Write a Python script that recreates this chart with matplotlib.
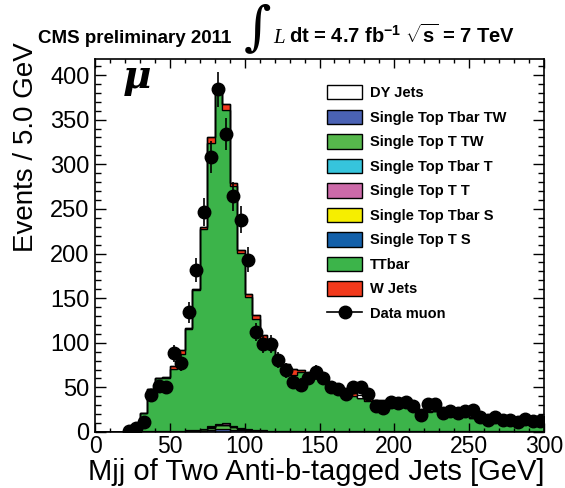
import numpy as np
import matplotlib
matplotlib.use("Agg")
import matplotlib.pyplot as plt
from matplotlib.patches import Patch
from matplotlib.lines import Line2D
from matplotlib.ticker import MultipleLocator

plt.rcParams['font.family'] = 'Liberation Sans'
plt.rcParams['mathtext.fontset'] = 'custom'
plt.rcParams['mathtext.rm'] = 'Liberation Sans:bold'
plt.rcParams['mathtext.bf'] = 'Liberation Sans:bold'
plt.rcParams['mathtext.it'] = 'Liberation Serif:italic'

# 5 GeV bins from 0 to 300 GeV
bin_edges = np.arange(0, 305, 5)

data_muon = [
    0, 0, 0, 0, 1, 5, 11, 41, 51, 50,
    88, 77, 134, 182, 246, 308, 384, 334, 264, 238,
    193, 112, 99, 99, 81, 69, 56, 53, 60, 67,
    60, 50, 48, 43, 50, 50, 43, 29, 27, 34,
    33, 34, 29, 19, 31, 31, 21, 23, 21, 23,
    25, 17, 14, 17, 14, 13, 11, 15, 12, 12,
]

st_tbar_tw = [
    0, 0, 0, 0, 0, 0, 0.2, 0.2, 0.2, 0.2,
    0.2, 0.2, 0.5, 1.0, 1.5, 2.5, 3.5, 3.5, 2.5, 1.8,
    1.2, 0.8, 0.6, 0.3, 0.3, 0.3, 0.3, 0.3, 0.3, 0.3,
    0.3, 0.3, 0.3, 0.3, 0.3, 0.3, 0.3, 0.3, 0.3, 0.3,
    0.3, 0.3, 0.3, 0.3, 0.3, 0.3, 0.3, 0.3, 0.3, 0.3,
    0.3, 0.3, 0.3, 0.3, 0.3, 0.3, 0.3, 0.3, 0.3, 0.3,
]
st_t_tw = [
    0, 0, 0, 0, 0, 0, 0.2, 0.2, 0.2, 0.2,
    0.2, 0.2, 0.5, 1.0, 1.5, 2.5, 4.0, 4.5, 3.0, 2.0,
    1.2, 0.8, 0.6, 0.3, 0.3, 0.3, 0.3, 0.3, 0.3, 0.3,
    0.3, 0.3, 0.3, 0.3, 0.3, 0.3, 0.3, 0.3, 0.3, 0.3,
    0.3, 0.3, 0.3, 0.3, 0.3, 0.3, 0.3, 0.3, 0.3, 0.3,
    0.3, 0.3, 0.3, 0.3, 0.3, 0.3, 0.3, 0.3, 0.3, 0.3,
]
st_tbar_t = [
    0, 0, 0, 0, 0, 0, 0.2, 0.2, 0.2, 0.2,
    0.2, 0.2, 0.2, 0.2, 0.2, 0.4, 0.4, 0.4, 0.4, 0.2,
    0.2, 0.2, 0.2, 0.2, 0.2, 0.2, 0.2, 0.2, 0.2, 0.2,
    0.2, 0.2, 0.2, 0.2, 0.2, 0.2, 0.2, 0.2, 0.2, 0.2,
    0.2, 0.2, 0.2, 0.2, 0.2, 0.2, 0.2, 0.2, 0.2, 0.2,
    0.2, 0.2, 0.2, 0.2, 0.2, 0.2, 0.2, 0.2, 0.2, 0.2,
]
st_t_t = [
    0, 0, 0, 0, 0, 0, 0.3, 0.3, 0.3, 0.3,
    0.3, 0.3, 0.3, 0.3, 0.3, 0.6, 0.8, 1.2, 0.8, 0.3,
    0.3, 0.3, 0.3, 0.3, 0.3, 0.3, 0.3, 0.3, 0.3, 0.3,
    0.3, 0.3, 0.3, 0.3, 0.3, 0.3, 0.3, 0.3, 0.3, 0.3,
    0.3, 0.3, 0.3, 0.3, 0.3, 0.3, 0.3, 0.3, 0.3, 0.3,
    0.3, 0.3, 0.3, 0.3, 0.3, 0.3, 0.3, 0.3, 0.3, 0.3,
]
st_tbar_s = [
    0, 0, 0, 0, 0, 0, 0.1, 0.1, 0.1, 0.1,
    0.1, 0.1, 0.1, 0.1, 0.1, 0.1, 0.1, 0.1, 0.1, 0.1,
    0.1, 0.1, 0.1, 0.1, 0.1, 0.1, 0.1, 0.1, 0.1, 0.1,
    0.1, 0.1, 0.1, 0.1, 0.1, 0.1, 0.1, 0.1, 0.1, 0.1,
    0.1, 0.1, 0.1, 0.1, 0.1, 0.1, 0.1, 0.1, 0.1, 0.1,
    0.1, 0.1, 0.1, 0.1, 0.1, 0.1, 0.1, 0.1, 0.1, 0.1,
]
st_t_s = [
    0, 0, 0, 0, 0, 0, 0.2, 0.2, 0.2, 0.2,
    0.2, 0.2, 0.2, 0.2, 0.2, 0.2, 0.3, 0.3, 0.2, 0.2,
    0.2, 0.2, 0.2, 0.2, 0.2, 0.2, 0.2, 0.2, 0.2, 0.2,
    0.2, 0.2, 0.2, 0.2, 0.2, 0.2, 0.2, 0.2, 0.2, 0.2,
    0.2, 0.2, 0.2, 0.2, 0.2, 0.2, 0.2, 0.2, 0.2, 0.2,
    0.2, 0.2, 0.2, 0.2, 0.2, 0.2, 0.2, 0.2, 0.2, 0.2,
]
ttbar = [
    0, 0, 0, 0, 0.3, 1.0, 19.8, 46.8, 58.8, 59.8,
    69.8, 85.8, 113.2, 156.2, 223.2, 317.7, 374.9, 351.0, 269.0, 196.4,
    147.8, 124.6, 102.0, 97.6, 76.6, 73.6, 62.6, 65.6, 58.6, 61.6,
    56.6, 49.6, 45.6, 43.6, 39.1, 36.6, 33.6, 33.6, 33.6, 28.6,
    28.6, 27.6, 27.6, 21.6, 20.6, 21.6, 20.6, 20.6, 19.6, 19.6,
    14.6, 11.6, 10.6, 10.6, 9.6, 9.6, 8.6, 8.6, 8.6, 7.6,
]
w_jets = [
    0, 0, 0, 0, 0, 0, 0, 0, 0, 1,
    3, 5, 1, 1, 3, 7, 2, 6, 3, 3,
    4, 4, 5, 1, 0, 1, 7, 3, 0, 0,
    0, 0, 0, 0, 3, 0.5, 3, 1, 1, 0,
    0, 0, 0, 0, 2, 0, 0, 0, 0, 0,
    0, 0, 0, 0, 0, 0, 0, 0, 0, 0,
]
dy_jets = [
    0, 0, 0, 0, 0, 0, 0, 0, 0, 0,
    0, 0, 0, 0, 0, 0, 0, 0, 0, 0,
    0, 0, 0, 0, 0, 0, 0, 0, 0, 0,
    0, 0, 0, 0, 0, 3, 0, 0, 0, 0,
    0, 0, 0, 0, 0, 1, 0, 0, 0, 0,
    1, 0, 0, 0, 0, 0, 0, 0, 0, 0,
]

# stack, bottom to top
stack = [
    ("Single Top Tbar TW", st_tbar_tw, "#4a62b4"),
    ("Single Top T TW", st_t_tw, "#56b84c"),
    ("Single Top Tbar T", st_tbar_t, "#36c4dc"),
    ("Single Top T T", st_t_t, "#cc6aa9"),
    ("Single Top Tbar S", st_tbar_s, "#f6ee00"),
    ("Single Top T S", st_t_s, "#1360aa"),
    ("TTbar", ttbar, "#3cb44a"),
    ("W Jets", w_jets, "#f23a1c"),
    ("DY Jets", dy_jets, "#ffffff"),
]
legend_order = ["DY Jets", "Single Top Tbar TW", "Single Top T TW", "Single Top Tbar T",
                "Single Top T T", "Single Top Tbar S", "Single Top T S", "TTbar", "W Jets"]

fig = plt.figure(figsize=(5.65, 4.88), dpi=100)
ax = fig.add_axes([95 / 565, 56 / 488, 449 / 565, 373.5 / 488])

bottom = np.zeros(len(bin_edges) - 1)
for name, vals, col in stack:
    top = bottom + np.array(vals)
    ax.stairs(top, bin_edges, baseline=bottom, fill=True, facecolor=col,
              edgecolor="black", linewidth=0.9)
    bottom = top

# data points with poisson errors
centers = 0.5 * (bin_edges[:-1] + bin_edges[1:])
d = np.array(data_muon, dtype=float)
m = d > 0
ax.errorbar(centers[m], d[m], yerr=np.sqrt(d[m]), fmt="o", color="black",
            markersize=9, elinewidth=1.2, capsize=0, zorder=5)

ax.set_xlim(0, 300)
ax.set_ylim(0, 418.5)
ax.xaxis.set_major_locator(MultipleLocator(50))
ax.xaxis.set_minor_locator(MultipleLocator(10))
ax.yaxis.set_major_locator(MultipleLocator(50))
ax.yaxis.set_minor_locator(MultipleLocator(10))
ax.tick_params(which="both", direction="in", top=True, right=True, width=1)
ax.tick_params(axis="y", which="major", length=8, pad=4, labelsize=17)
ax.tick_params(axis="y", which="minor", length=4)
ax.tick_params(axis="x", which="major", length=6.5, pad=2, labelsize=16.5)
ax.tick_params(axis="x", which="minor", length=3.2)
for s in ax.spines.values():
    s.set_linewidth(1.2)

fig.text(545 / 565, 1 - 480 / 488, "Mjj of Two Anti-b-tagged Jets [GeV]",
         fontsize=21, ha="right", va="baseline")
fig.text(26 / 565, 1 - 42 / 488, "Events / 5.0 GeV", fontsize=20,
         rotation=90, ha="center", va="top")

# legend
handles = []
cols = {name: col for name, _, col in stack}
for name in legend_order:
    handles.append(Patch(facecolor=cols[name], edgecolor="black", linewidth=1, label=name))
handles.append(Line2D([], [], color="black", marker="o", markersize=9, linewidth=1.2,
                      label="Data muon"))
ax.legend(handles=handles, loc="upper left", bbox_to_anchor=(0.517, 0.929),
          frameon=False, prop={"weight": "bold", "size": 10.5},
          handlelength=2.4, handleheight=1.15, labelspacing=0.64,
          handletextpad=0.55, borderpad=0, borderaxespad=0)

ax.text(0.062, 0.922, "μ", transform=ax.transAxes, fontsize=28, fontstyle="italic",
        fontweight="bold", family="DejaVu Serif", va="baseline", ha="left")

# header
fig.text(38 / 565, 1 - 43 / 488, "CMS preliminary 2011", fontsize=13.5,
         fontweight="bold", ha="left", va="baseline")
fig.text(258 / 565, 1 - 29 / 488, "∫", fontsize=38, family="DejaVu Serif",
         ha="center", va="center")
fig.text(273 / 565, 1 - 43 / 488, "L", fontsize=15, family="Liberation Serif",
         style="italic", ha="left", va="baseline")
fig.text(289 / 565, 1 - 43 / 488, r"dt = 4.7 fb$^{-1}$ $\sqrt{\mathrm{s}}$ = 7 TeV",
         fontsize=14.5, fontweight="bold", ha="left", va="baseline")

fig.savefig("out.png", dpi=100)
